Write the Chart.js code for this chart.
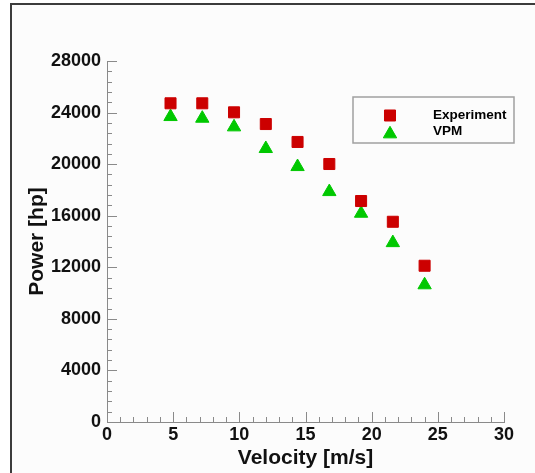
<!DOCTYPE html>
<html>
<head>
<meta charset="utf-8">
<script src="https://cdn.jsdelivr.net/npm/chart.js@4"></script>
<style>
  html, body { margin: 0; padding: 0; background: #fff; }
  #wrap { position: relative; width: 535px; height: 473px; overflow: hidden; }
  #frame { position: absolute; left: 10px; top: 3px; width: 600px; height: 600px;
    border-left: 2px solid #3c3c3c; border-top: 2px solid #3c3c3c; background: #fcfcfc; }
  canvas { position: absolute; left: 0; top: 0; }
</style>
</head>
<body>
<div id="wrap"><div id="frame"></div><canvas id="chart" width="535" height="473"></canvas></div>
<script>
// values
const velocity = [4.8, 7.2, 9.6, 12.0, 14.4, 16.8, 19.2, 21.6, 24.0];
const experiment = [24720, 24720, 24020, 23110, 21720, 20010, 17140, 15530, 12120];
const vpm = [23680, 23550, 22880, 21200, 19800, 17860, 16180, 13900, 10630];

const xMajorTicks = [0, 5, 10, 15, 20, 25, 30];
const yMajorTicks = [0, 4000, 8000, 12000, 16000, 20000, 24000, 28000];
const xMinorStep = 1;
const yMinorStep = 800;

const RED = '#cc0000';
const GREEN = '#00c800';
const AXIS = '#8a8a8a';
const FONT = '"Liberation Sans", Arial, sans-serif';

const toPoints = (ys) => velocity.map((v, i) => ({ x: v, y: ys[i] }));

// tecplot-style ticks pointing into the plot
const inwardTicks = {
  id: 'inwardTicks',
  afterDatasetsDraw(chart) {
    const { ctx, chartArea, scales: { x, y } } = chart;
    ctx.save();
    ctx.strokeStyle = AXIS;
    ctx.lineWidth = 1;
    ctx.beginPath();
    const xMax = xMajorTicks[xMajorTicks.length - 1];
    for (let v = 0; v <= xMax + 1e-9; v += xMinorStep) {
      const px = Math.round(x.getPixelForValue(v)) + 0.5;
      const len = xMajorTicks.includes(v) ? 10 : 5;
      ctx.moveTo(px, chartArea.bottom);
      ctx.lineTo(px, chartArea.bottom - len);
    }
    const yMax = yMajorTicks[yMajorTicks.length - 1];
    for (let v = 0; v <= yMax + 1e-9; v += yMinorStep) {
      const py = Math.round(y.getPixelForValue(v)) + 0.5;
      const len = yMajorTicks.includes(v) ? 10 : 5;
      ctx.moveTo(chartArea.left, py);
      ctx.lineTo(chartArea.left + len, py);
    }
    ctx.stroke();
    ctx.restore();
  }
};

// boxed legend inside the plot
const boxLegend = {
  id: 'boxLegend',
  afterDraw(chart) {
    const { ctx } = chart;
    ctx.save();
    ctx.fillStyle = '#fcfcfc';
    ctx.strokeStyle = '#a0a0a0';
    ctx.lineWidth = 1.5;
    ctx.fillRect(353, 97, 161, 46);
    ctx.strokeRect(353, 97, 161, 46);
    const rows = [115.5, 131.5];
    chart.data.datasets.forEach((ds, i) => {
      ctx.fillStyle = ds.backgroundColor;
      ctx.strokeStyle = ds.borderColor;
      ctx.lineWidth = 1;
      const my = ds.pointStyle === 'triangle' ? rows[i] + 2.5 : rows[i];
      Chart.helpers.drawPoint(ctx, { pointStyle: ds.pointStyle, radius: ds.pointRadius, rotation: 0, borderWidth: 1 }, 390, my);
      ctx.fillStyle = '#000';
      ctx.font = 'bold 13.5px ' + FONT;
      ctx.textBaseline = 'middle';
      ctx.textAlign = 'left';
      ctx.fillText(ds.label, 433, rows[i]);
    });
    ctx.restore();
  }
};

const plainNumber = (v) => String(v);

new Chart(document.getElementById('chart'), {
  type: 'scatter',
  data: {
    datasets: [
      { label: 'Experiment', data: toPoints(experiment), pointStyle: 'rect', pointRadius: 7.8,
        backgroundColor: RED, borderColor: RED, borderWidth: 1 },
      { label: 'VPM', data: toPoints(vpm), pointStyle: 'triangle', pointRadius: 7.7,
        backgroundColor: GREEN, borderColor: GREEN, borderWidth: 1 }
    ]
  },
  options: {
    responsive: false,
    animation: false,
    layout: { padding: { left: 0, top: 61, right: 31, bottom: 0 } },
    plugins: { legend: { display: false }, tooltip: { enabled: false } },
    scales: {
      x: {
        type: 'linear', min: 0, max: 30,
        grid: { display: false, drawTicks: false },
        border: { display: true, color: AXIS, width: 1 },
        ticks: { stepSize: 5, padding: 2, color: '#111', callback: plainNumber,
          font: { family: FONT, size: 18, weight: 'bold' } },
        title: { display: true, text: 'Velocity [m/s]', color: '#111',
          font: { family: FONT, size: 21, weight: 'bold' }, padding: { top: 0, bottom: 2 } },
        afterFit(s) { s.height = 51; s.paddingLeft = 0; s.paddingRight = 0; }
      },
      y: {
        type: 'linear', min: 0, max: 28000,
        grid: { display: false, drawTicks: false },
        border: { display: true, color: AXIS, width: 1 },
        ticks: { stepSize: 4000, padding: 6, color: '#111', callback: plainNumber,
          font: { family: FONT, size: 18, weight: 'bold' } },
        title: { display: true, text: 'Power [hp]', color: '#111',
          font: { family: FONT, size: 21, weight: 'bold' }, padding: { top: 25, bottom: 0 } },
        afterFit(s) { s.width = 107; s.paddingTop = 0; s.paddingBottom = 0; }
      }
    }
  },
  plugins: [inwardTicks, boxLegend]
});
</script>
</body>
</html>
